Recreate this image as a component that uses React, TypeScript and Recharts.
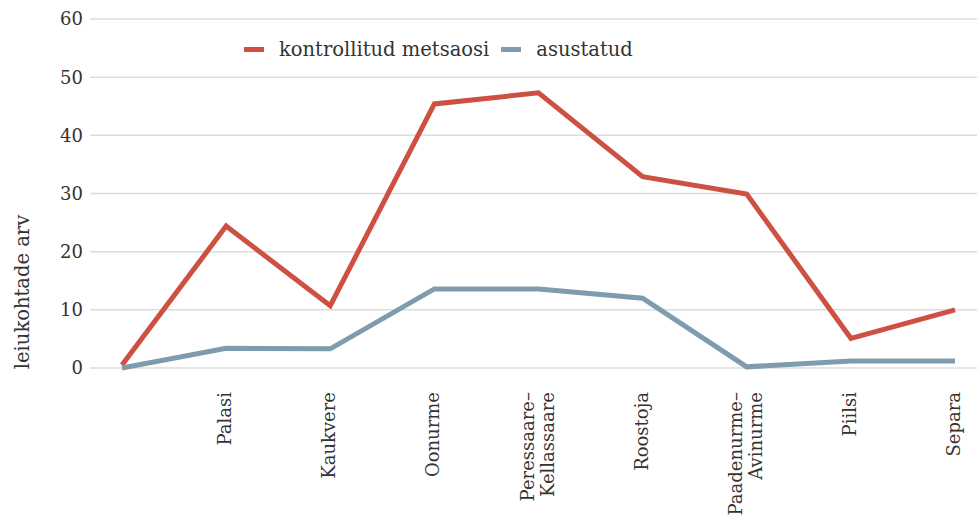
import { CartesianGrid, Legend, Line, LineChart, XAxis, YAxis } from "recharts"

const categories = [
  "",
  "Palasi",
  "Kaukvere",
  "Oonurme",
  "Peressaare–\nKellassaare",
  "Roostoja",
  "Paadenurme–\nAvinurme",
  "Piilsi",
  "Separa",
]
const kontrollitud = [0.5, 24.4, 10.7, 45.4, 47.3, 32.9, 29.9, 5.1, 10.0]
const asustatud = [0, 3.4, 3.3, 13.6, 13.6, 12.0, 0.2, 1.2, 1.2]
const yTicks = [0, 10, 20, 30, 40, 50, 60]

const seriesNames = {
  kontrollitud: "kontrollitud metsaosi",
  asustatud: "asustatud",
}

const RED = "#cd5043"
const BLUE = "#7f9bae"
const TEXT = "#333333"
const FONT = "'DejaVu Serif', serif"

const data = categories.map((name, i) => ({
  name,
  kontrollitud: kontrollitud[i],
  asustatud: asustatud[i],
}))

function CategoryTick({ x, y, payload }: any) {
  const lines = String(payload.value).split("\n")
  const offset = (lines.length - 1) * 10
  return (
    <g>
      {lines.map((line, i) => {
        const lx = x + 5 - offset + i * 20
        const ly = y + 16
        return (
          <text
            key={i}
            x={lx}
            y={ly}
            textAnchor="end"
            transform={`rotate(-90, ${lx}, ${ly})`}
            fill={TEXT}
            fontSize={18}
            fontFamily={FONT}
          >
            {line}
          </text>
        )
      })}
    </g>
  )
}

function LegendContent() {
  const items = [
    { label: seriesNames.kontrollitud, color: RED },
    { label: seriesNames.asustatud, color: BLUE },
  ]
  return (
    <div style={{ display: "flex", alignItems: "center", fontFamily: FONT, fontSize: 19.5, color: TEXT, whiteSpace: "nowrap" }}>
      {items.map((it) => (
        <div key={it.label} style={{ display: "flex", alignItems: "center", marginRight: 12 }}>
          <span style={{ display: "inline-block", width: 20, height: 5, background: it.color, marginRight: 15 }} />
          <span>{it.label}</span>
        </div>
      ))}
    </div>
  )
}

function AxisLabel() {
  return (
    <text
      x={29}
      y={292}
      textAnchor="middle"
      transform="rotate(-90, 29, 292)"
      fill={TEXT}
      fontSize={19.5}
      fontFamily={FONT}
    >
      leiukohtade arv
    </text>
  )
}

export default function App() {
  return (
    <div style={{ position: "absolute", left: 0, top: 0, width: 977, height: 518, background: "#fff" }}>
      <LineChart width={977} height={518} data={data} margin={{ top: 19, right: 0, left: 0, bottom: 0 }}>
        <CartesianGrid vertical={false} stroke="#dcdcdc" strokeWidth={1.5} />
        <XAxis
          dataKey="name"
          interval={0}
          axisLine={false}
          tickLine={false}
          height={150}
          padding={{ left: 32, right: 22 }}
          tick={<CategoryTick />}
        />
        <YAxis
          domain={[0, 60]}
          ticks={yTicks}
          width={90}
          axisLine={false}
          tickLine={false}
          tickSize={0}
          tickMargin={7}
          tick={{ fill: TEXT, fontSize: 18, fontFamily: FONT }}
          label={{ content: <AxisLabel /> }}
        />
        <Legend
          content={<LegendContent />}
          verticalAlign="middle"
          wrapperStyle={{ position: "absolute", top: 38, left: 244, width: "auto" }}
        />
        <Line
          type="linear"
          dataKey="kontrollitud"
          name={seriesNames.kontrollitud}
          stroke={RED}
          strokeWidth={5}
          dot={false}
          isAnimationActive={false}
        />
        <Line
          type="linear"
          dataKey="asustatud"
          name={seriesNames.asustatud}
          stroke={BLUE}
          strokeWidth={5}
          dot={false}
          isAnimationActive={false}
        />
      </LineChart>
    </div>
  )
}
